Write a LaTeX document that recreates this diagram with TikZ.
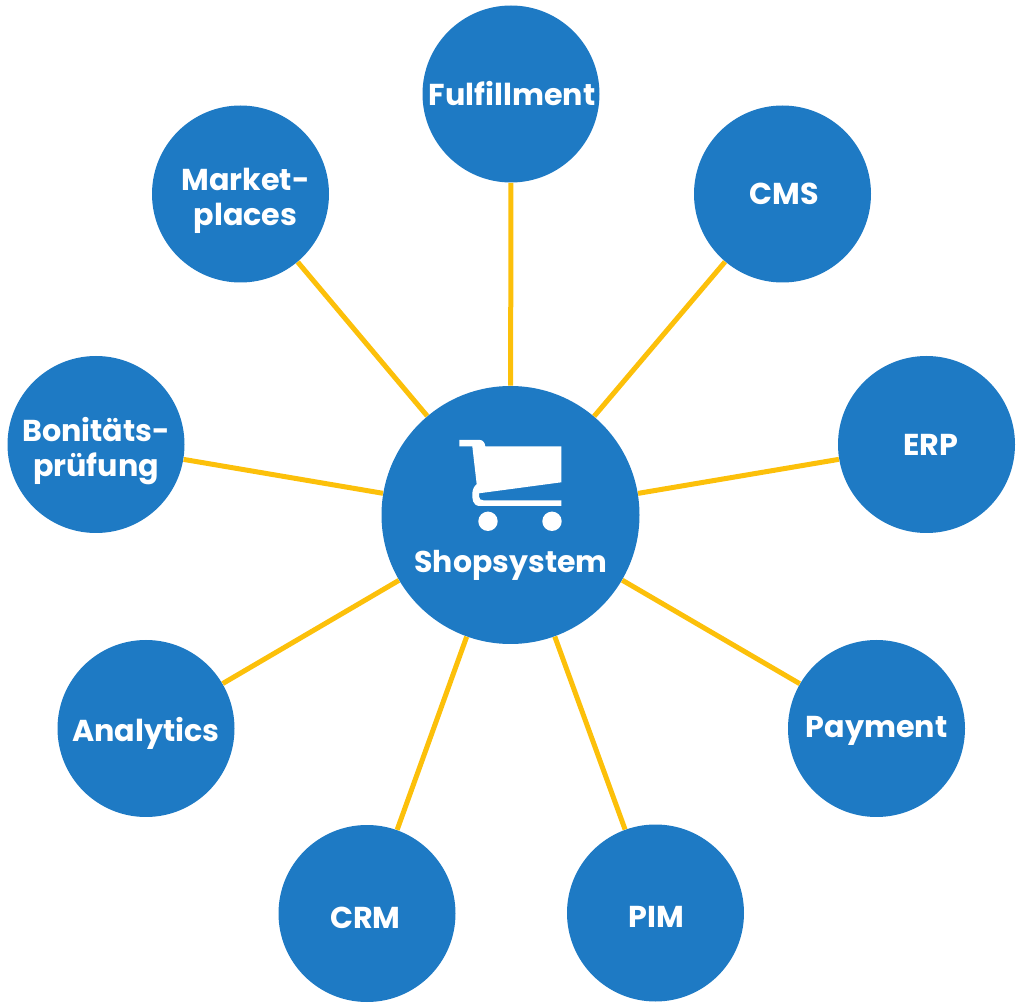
\documentclass[tikz,border=0pt]{standalone}
\usepackage{fontspec}
\setmainfont{Poppins}
\usepackage{tikz}
\usetikzlibrary{positioning}
\definecolor{bubble}{RGB}{30,122,196}
\definecolor{spoke}{RGB}{252,192,10}
\newlength{\unit}
\setlength{\unit}{0.5pt}
\newcommand{\nudge}[2]{\hspace*{#1pt}\rule{0pt}{#2pt}}
\tikzset{
	sat/.style={circle, fill=bubble, minimum size=177\unit, inner sep=0pt, align=center, text=white, font=\fontsize{15.1}{17.5}\selectfont\bfseries},
	hub/.style={circle, fill=bubble, minimum size=258\unit, inner sep=0pt},
	link/.style={draw=spoke, line width=5\unit},
}
\begin{document}
\begin{tikzpicture}[x=\unit, y=-\unit]
		\useasboundingbox (0,0) rectangle (1024,1005);

		\node(H)[hub] at (510.5,515){};
		\node(F)[sat] at (511,94){\hspace*{1pt}Fulfillment};
		\node(C)[sat] at (782.5,194){\hspace*{2pt}CMS};
		\node(E)[sat] at (926.5,444.5){\hspace*{4.5pt}ERP};
		\node(P)[sat] at (876.5,728.5){\nudge{0}{12.6}Payment};
		\node(I)[sat] at (655.5,913){\nudge{1}{14.6}PIM};
		\node(R)[sat] at (367,913.5){\nudge{-1.5}{14.6}CRM};
		\node(A)[sat] at (146,728.5){\nudge{0}{17.2}Analytics};
		\node(B)[sat] at (96,444.5){\nudge{0}{18.2}Bonitäts-\\prüfung};
		\node(M)[sat] at (240.5,194){\nudge{5}{18.2}Market-\\\hspace*{5pt}places};

		\draw[link] (H) -- (F);
		\draw[link] (H) -- (C);
		\draw[link] (H) -- (E);
		\draw[link] (H) -- (P);
		\draw[link] (H) -- (I);
		\draw[link] (H) -- (R);
		\draw[link] (H) -- (A);
		\draw[link] (H) -- (B);
		\draw[link] (H) -- (M);

		\node(S)[text=white, inner sep=0pt, font=\fontsize{15}{18}\selectfont\bfseries] at (511,565){Shopsystem};

		% cart
		\fill[white] (459.3,440) -- (480,440) .. controls (483,440) and (485,443) .. (485.3,446.3) -- (561.3,446.3) -- (561.3,482.3) -- (479,493.3) .. controls (479,494.5) and (479,495.5) .. (479,496.7) .. controls (479,499) and (481,500.3) .. (483.3,500.3) -- (561.3,500.3) -- (561.3,506) -- (480,506) .. controls (472,506) and (472.3,498) .. (472.3,494) .. controls (472.3,490) and (474,486) .. (476.7,484.3) -- (472.3,446.3) -- (459.3,446.3) -- cycle;
		\fill[white] (488,521.3) circle[radius=9.7\unit];
		\fill[white] (552,521.3) circle[radius=9.7\unit];
	\end{tikzpicture}
\end{document}
